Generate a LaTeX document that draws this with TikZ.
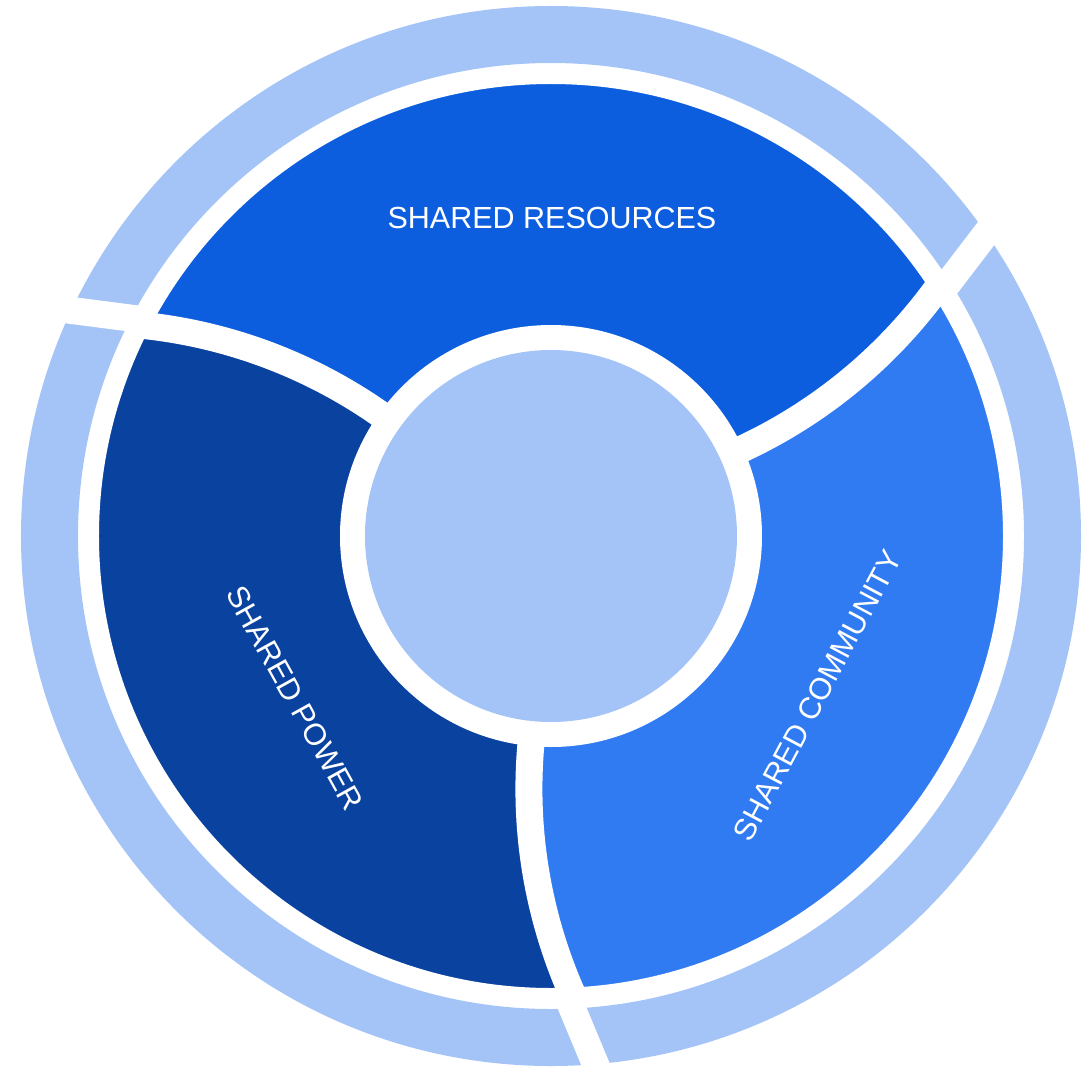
\documentclass[tikz,border=0pt]{standalone}
\usepackage{fontspec}
\setmainfont{Liberation Sans}
\definecolor{cLight}{HTML}{A4C4F8}
\definecolor{cRes}{HTML}{0D5EDE}
\definecolor{cPow}{HTML}{0A42A0}
\definecolor{cCom}{HTML}{307BF2}
\tikzset{
  gapline/.style={white, line width=27pt},
  lbl/.style={text=white, font=\fontsize{30.5}{36}\selectfont, inner sep=0pt}
}
\begin{document}
\begin{tikzpicture}
\useasboundingbox (-551pt,-530pt) rectangle (532pt,536pt);
\coordinate (o) at (0,0);
\coordinate (c3) at (-27.6:546.1pt);
\coordinate (c2) at (92.4:546.1pt);
\coordinate (c1) at (212.4:546.1pt);
% segments
\begin{scope}
  \clip (o) circle[radius=456pt];
  \fill[cPow] (o) circle[radius=456pt];
  \begin{scope}
    \clip (c3) circle[radius=506pt];
    \fill[cCom] (o) circle[radius=456pt];
  \end{scope}
  \begin{scope}
    \clip (c2) circle[radius=506pt];
    \fill[cRes] (o) circle[radius=456pt];
  \end{scope}
  \begin{scope}
    \clip (c1) circle[radius=506pt];
    \fill[cPow, even odd rule] (-600pt,-600pt) rectangle (600pt,600pt) (c3) circle[radius=506pt];
  \end{scope}
\end{scope}
% white gap between segments and outer ring
\draw[white, line width=20pt] (o) circle[radius=462pt];
% separators
\begin{scope}
  \clip (o) circle[radius=468pt];
  \draw[gapline] (c3) ++(165:506pt) arc[start angle=165, end angle=212, radius=506pt];
  \draw[gapline] (c2) ++(285:506pt) arc[start angle=285, end angle=332, radius=506pt];
  \draw[gapline] (c1) ++(45:506pt) arc[start angle=45, end angle=92, radius=506pt];
\end{scope}
% outer ring
\fill[cLight, even odd rule] (o) circle[radius=530pt] (o) circle[radius=473pt];
\foreach \r in {0,120,240}{
  \begin{scope}[rotate=\r]
    \draw[gapline] (15.5pt,-458.7pt) -- (49.4pt,-540pt);
  \end{scope}
}
% centre
\fill[white] (o) circle[radius=211pt];
\fill[cLight] (o) circle[radius=186pt];
% labels
\node[lbl] (res) at (1pt,318pt) {SHARED RESOURCES};
\node[lbl, rotate=-61] (pow) at (-256pt,-162pt) {SHARED POWER};
\node[lbl, rotate=62] (com) at (266.5pt,-159.5pt) {SHARED COMMUNITY};
\end{tikzpicture}
\end{document}
